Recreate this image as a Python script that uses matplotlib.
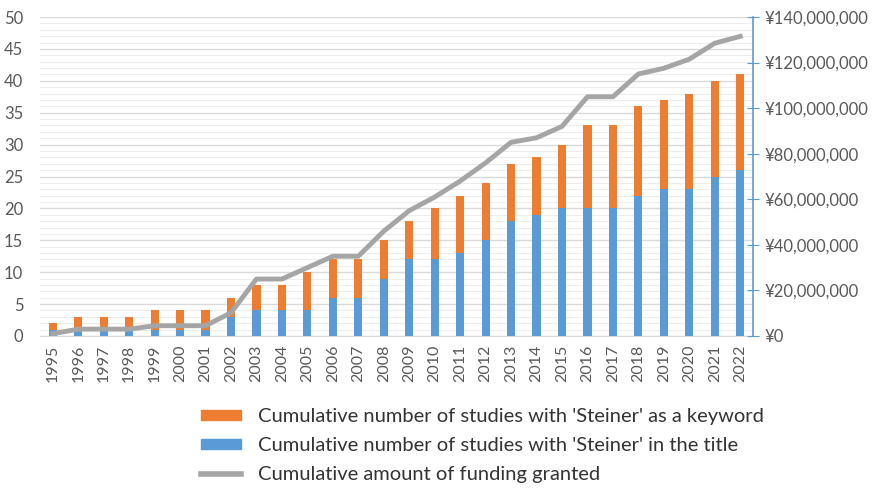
import numpy as np
import matplotlib.pyplot as plt
from matplotlib.ticker import MultipleLocator, FuncFormatter
from matplotlib.patches import Patch
from matplotlib.lines import Line2D

years = [str(y) for y in range(1995, 2023)]
title_counts = [1, 1, 1, 1, 1, 1, 1, 3, 4, 4, 4, 6, 6, 9, 12, 12, 13, 15, 18, 19,
                20, 20, 20, 22, 23, 23, 25, 26]
total_counts = [2, 3, 3, 3, 4, 4, 4, 6, 8, 8, 10, 12, 12, 15, 18, 20, 22, 24, 27, 28,
                30, 33, 33, 36, 37, 38, 40, 41]
funding = [1.0, 3.0, 3.0, 3.0, 4.5, 4.5, 4.5, 10.2, 25.0, 25.0, 30.0, 35.0, 35.0, 46.0,
           55.0, 61.0, 68.0, 76.0, 85.0, 87.0, 92.0, 105.0, 105.0, 115.0, 117.5, 121.5,
           128.5, 131.5]  # millions of yen

keyword_counts = [t - b for t, b in zip(total_counts, title_counts)]

plt.rcParams['font.family'] = ['Lato', 'DejaVu Sans']
orange = '#ED7D31'
blue = '#5B9BD5'
gray = '#A5A5A5'
txt = '#595959'

fig = plt.figure(figsize=(8.73, 4.9), dpi=100)
ax = fig.add_axes([40 / 873, 1 - 336 / 490, 713 / 873, 319 / 490])
x = np.arange(len(years))
ax.bar(x, title_counts, width=0.32, color=blue, zorder=3)
ax.bar(x, keyword_counts, bottom=title_counts, width=0.32, color=orange, zorder=3)
ax.set_xlim(-0.5, len(years) - 0.5)
ax.set_ylim(0, 50)
ax.yaxis.set_major_locator(MultipleLocator(5))
ax.yaxis.set_minor_locator(MultipleLocator(1))
ax.grid(axis='y', which='major', color='#D9D9D9', linewidth=1.0, zorder=0)
ax.grid(axis='y', which='minor', color='#EDEDED', linewidth=0.8, zorder=0)
ax.set_xticks(x)
ax.set_xticklabels(years, rotation=90, fontsize=11.5, color=txt)
ax.tick_params(axis='x', length=0, pad=6)
ax.tick_params(axis='y', which='both', length=0, labelsize=12, labelcolor=txt, pad=12)
for s in ['top', 'right', 'left']:
    ax.spines[s].set_visible(False)
ax.spines['bottom'].set_color('#D9D9D9')

ax2 = ax.twinx()
ax2.plot(x, [f * 1e6 for f in funding], color=gray, linewidth=3.5, zorder=4,
         solid_joinstyle='round')
ax2.set_ylim(0, 140e6)
ax2.yaxis.set_major_locator(MultipleLocator(20e6))
ax2.yaxis.set_major_formatter(FuncFormatter(lambda v, p: '¥{:,.0f}'.format(v)))
ax2.tick_params(axis='y', direction='inout', length=8, color=blue,
                labelsize=12, labelcolor=txt, pad=4)
for s in ['top', 'left', 'bottom']:
    ax2.spines[s].set_visible(False)
ax2.spines['right'].set_color(blue)
ax2.spines['right'].set_linewidth(1.2)

handles = [Patch(color=orange), Patch(color=blue),
           Line2D([], [], color=gray, linewidth=4)]
labels = ["Cumulative number of studies with 'Steiner' as a keyword",
          "Cumulative number of studies with 'Steiner' in the title",
          "Cumulative amount of funding granted"]
fig.legend(handles, labels, loc='upper left', bbox_to_anchor=(183 / 873, 1 - 390 / 490),
           frameon=False, fontsize=14.5, labelcolor='#333333', handlelength=2.0,
           handleheight=0.4, labelspacing=0.6, handletextpad=0.8)

fig.savefig('out.png', dpi=100)
